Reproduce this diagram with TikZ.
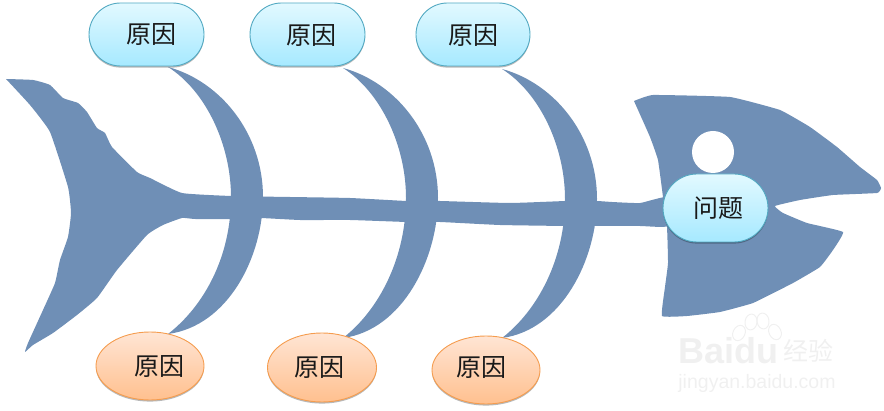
\documentclass[tikz,border=0pt]{standalone}
\usepackage{fontspec}
\setmainfont{Noto Sans CJK SC}
\newfontfamily\wmfont{Liberation Sans}
\usetikzlibrary{shadows,shapes.geometric,shapes.misc}
\definecolor{fishblue}{HTML}{6F8FB6}
\definecolor{wmgrey}{HTML}{F0F0F0}
\definecolor{pilltop}{HTML}{E2F9FF}
\definecolor{pillbot}{HTML}{A6E9FF}
\definecolor{pillline}{HTML}{52A9C2}
\definecolor{ovaltop}{HTML}{FFE5D4}
\definecolor{ovalbot}{HTML}{FFC08F}
\definecolor{ovalline}{HTML}{F59C4E}
\newcommand{\ribshape}[3]{% x, y of the top tip, height
  \fill[fishblue,shift={(#1,#2)}] (0,0) .. controls (52,14) and (95,66) .. (95,130)
    .. controls (95,190) and (60,#3-8) .. (0,#3)
    .. controls (36,#3-28) and (63,190) .. (63,130)
    .. controls (63,78) and (38,24) .. (0,0) -- cycle;}
\tikzset{
  x=1pt,y=-1pt,
  softshadow/.style={drop shadow={shadow xshift=0pt,shadow yshift=-1.6pt,opacity=.28,fill=black}},
  pill/.style={rounded rectangle,inner sep=0pt,draw=pillline,line width=.9pt,
    top color=pilltop,bottom color=pillbot,softshadow},
  oval/.style={ellipse,inner sep=0pt,draw=ovalline,line width=.9pt,
    top color=ovaltop,bottom color=ovalbot,softshadow},
  lbl/.style={inner sep=0pt,text=black!90,font=\fontsize{25}{25}\selectfont},
}
\begin{document}
\begin{tikzpicture}
\useasboundingbox (0,0) rectangle (884,411);
% watermark
\node[inner sep=0pt,text=wmgrey,font=\wmfont\bfseries\fontsize{36}{36}\selectfont,anchor=west] (wm1) at (678,351) {Baidu};
\node[inner sep=0pt,text=wmgrey,font=\fontsize{25}{25}\selectfont,anchor=west] (wm2) at (783,351) {经验};
\node[inner sep=0pt,text=wmgrey,font=\wmfont\fontsize{19.5}{20}\selectfont] (wm3) at (757,383) {jingyan.baidu.com};
\foreach \px/\py/\rx/\ry/\ang in {739/333/6/8/-25, 751/322/6/8/-8, 763/321/6/8/8, 775/332/6/8/25}
  \draw[wmgrey,line width=1pt] (\px,\py) ellipse[x radius=\rx,y radius=\ry,rotate=\ang];
% tail and spine
\fill[fishblue] plot[smooth,tension=.25] coordinates {
 (6,79) (33,80) (50,85) (63,98) (78,103) (87,112) (97,128) (105,133) (112,147)
 (137,172) (150,178) (182,193) (231,196) (290,197) (350,198) (407,201) (440,201)
 (510,203) (566,201) (597,201) (612,202) (640,203) (668,197)
 (668,226) (640,226) (596,226) (566,226) (500,225) (440,222) (407,222) (350,220)
 (300,220) (260,218) (231,219) (195,219) (182,218) (163,225) (147,235) (117,270)
 (97,298) (77,315) (53,333) (33,345) (25,352)
 (28,343) (43,310) (55,283) (60,260) (68,237) (71,213) (68,187) (50,132) (30,105) (6,79)
} -- cycle;
% ribs
\ribshape{168}{67}{267}
\ribshape{343}{68}{270}
\ribshape{502}{69}{269}
% head
\fill[fishblue] plot[smooth,tension=.2] coordinates {
 (634,101) (653,95) (730,97) (780,110) (810,127) (837,147) (860,167) (877,180) (881,188)
 (877,193) (833,195) (800,200) (775,206) (783,213) (807,223) (843,232) (833,250)
 (820,267) (793,283) (753,303) (720,312) (687,316) (662,316) (665,287) (668,263)
 (667,227) (663,197) (658,160) (650,137) (634,101)
} -- cycle;
% eye
\fill[white] (713,152) circle[radius=21];
% top causes
\node[pill,minimum width=115pt,minimum height=63pt] (t1) at (146.5,34.5) {};
\node[pill,minimum width=115pt,minimum height=63pt] (t2) at (307.5,34.5) {};
\node[pill,minimum width=114pt,minimum height=63pt] (t3) at (473,34.5) {};
\node[lbl] (t1l) at (151,35) {原因};
\node[lbl] (t2l) at (311,36) {原因};
\node[lbl] (t3l) at (473.5,36) {原因};
% bottom causes
\node[oval,minimum width=108pt,minimum height=68pt] (b1) at (150,366) {};
\node[oval,minimum width=109pt,minimum height=69pt] (b2) at (322,367.5) {};
\node[oval,minimum width=108pt,minimum height=68pt] (b3) at (486,370) {};
\node[lbl] (b1l) at (159.5,367) {原因};
\node[lbl] (b2l) at (319,368) {原因};
\node[lbl] (b3l) at (481,368) {原因};
% problem
\node[pill,minimum width=105pt,minimum height=68pt] (p) at (715.5,208) {};
\node[lbl] (pl) at (718,208) {问题};
\end{tikzpicture}
\end{document}
